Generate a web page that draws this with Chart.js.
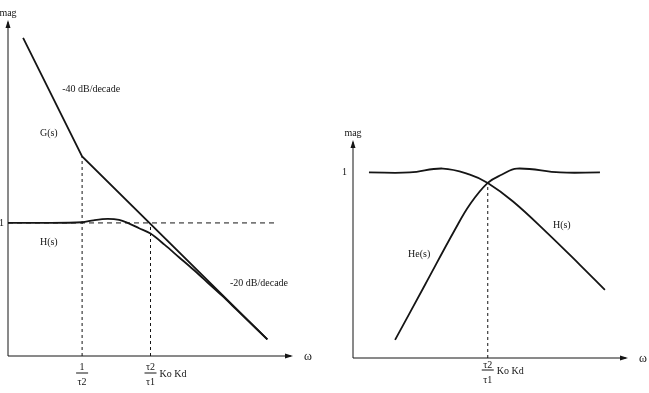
<!DOCTYPE html>
<html>
<head>
<meta charset="utf-8">
<script src="https://cdn.jsdelivr.net/npm/chart.js@4.4.0/dist/chart.umd.min.js"></script>
<style>
body { margin: 0; background: #fff; }
#left { position: absolute; left: 0; top: 0; }
#right { position: absolute; left: 330px; top: 0; }
</style>
</head>
<body>
<canvas id="left" width="320" height="393"></canvas>
<canvas id="right" width="319" height="393"></canvas>
<script>
// left plot - open loop G(s) and closed loop H(s)
const gOmega = [0.53, 2.6, 9.1];
const gMag = [9.56, 6.0, 0.5];
const hOmega = [0, 1.5, 2.6, 3.0, 3.5, 3.9, 4.2, 4.6, 5.0, 5.5, 6.0, 6.5, 7.0, 7.5, 8.0, 9.1];
const hMag = [4.0, 4.0, 4.02, 4.08, 4.12, 4.09, 4.0, 3.84, 3.68, 3.34, 2.97, 2.6, 2.21, 1.82, 1.41, 0.5];
const unityLeft = 4.0;
const unityLeftEnd = 9.37;
const leftTicks = [2.6, 5.0];
const leftTickLabels = [['1', 'τ2'], ['τ2', 'τ1']];

// right plot - H(s) and error response He(s)
const rhOmega = [0.58, 2.07, 3.27, 4.25, 4.9, 5.82, 7.05, 8.25, 9.16];
const rhMag = [8.0, 8.0, 8.17, 7.91, 7.55, 6.75, 5.41, 4.02, 2.94];
const heOmega = [1.53, 2.62, 3.71, 4.25, 4.9, 5.42, 5.96, 7.53, 8.98];
const heMag = [0.78, 3.16, 5.54, 6.62, 7.55, 7.91, 8.17, 8.0, 8.0];
const unityRight = 8.0;
const crossMag = 7.55;
const rightTicks = [4.9];
const rightTickLabels = [['τ2', 'τ1']];

const ink = '#151515';
const serif = 'Liberation Serif, Times New Roman, serif';

function pts(xs, ys) {
    return xs.map((v, i) => ({ x: v, y: ys[i] }));
}

function curve(data, smooth) {
    const ds = { data: data, showLine: true, pointRadius: 0, borderColor: ink, borderWidth: 1.8, tension: 0 };
    if (smooth === 'mono') ds.cubicInterpolationMode = 'monotone';
    else if (smooth) ds.tension = smooth;
    return ds;
}

function dashed(data, dash) {
    return { data: data, showLine: true, pointRadius: 0, borderColor: ink, borderWidth: 1, borderDash: dash };
}

// axes with arrow heads, labels, fraction bars
const bodePlugin = {
    id: 'bode',
    afterDraw(chart, args, opts) {
        const { ctx, chartArea: a, scales: { x, y } } = chart;
        ctx.save();
        ctx.strokeStyle = ink;
        ctx.fillStyle = ink;
        ctx.lineWidth = 1;
        ctx.beginPath();
        ctx.moveTo(a.left, a.bottom);
        ctx.lineTo(a.left, a.top + 2);
        ctx.moveTo(a.left, a.bottom);
        ctx.lineTo(a.right - 2, a.bottom);
        ctx.stroke();
        ctx.beginPath();
        ctx.moveTo(a.left, a.top);
        ctx.lineTo(a.left - 2.5, a.top + 8);
        ctx.lineTo(a.left + 2.5, a.top + 8);
        ctx.closePath();
        ctx.fill();
        ctx.beginPath();
        ctx.moveTo(a.right, a.bottom);
        ctx.lineTo(a.right - 8, a.bottom - 2.5);
        ctx.lineTo(a.right - 8, a.bottom + 2.5);
        ctx.closePath();
        ctx.fill();

        ctx.font = '10px ' + serif;
        ctx.textBaseline = 'middle';
        ctx.textAlign = 'center';
        ctx.fillText('mag', a.left, a.top - 7);
        ctx.font = '12px ' + serif;
        ctx.fillText('ω', a.right + 15, a.bottom + 1);

        // fraction bars under the tick marks
        ctx.font = '10px ' + serif;
        opts.ticks.forEach(v => {
            const px = x.getPixelForValue(v);
            ctx.beginPath();
            ctx.moveTo(px - 6, a.bottom + opts.bar);
            ctx.lineTo(px + 6, a.bottom + opts.bar);
            ctx.stroke();
        });
        const last = opts.ticks[opts.ticks.length - 1];
        ctx.textAlign = 'left';
        ctx.fillText('Ko Kd', x.getPixelForValue(last) + 9, a.bottom + opts.bar + 1);

        opts.notes.forEach(n => {
            ctx.fillText(n.text, x.getPixelForValue(n.x), y.getPixelForValue(n.y));
        });
        ctx.restore();
    }
};

function makeChart(id, datasets, xTicks, xLabels, yMax, unity, pad, yWidth, yPad, xHeight, xPad, notes, bar) {
    return new Chart(document.getElementById(id), {
        type: 'scatter',
        data: { datasets: datasets },
        options: {
            responsive: false,
            animation: false,
            devicePixelRatio: 1,
            layout: { padding: pad },
            plugins: {
                legend: { display: false },
                tooltip: { enabled: false },
                bode: { ticks: xTicks, notes: notes, bar: bar }
            },
            scales: {
                x: {
                    type: 'linear',
                    min: 0,
                    max: 10,
                    grid: { display: false, drawTicks: false },
                    border: { display: false },
                    afterBuildTicks: s => { s.ticks = xTicks.map(v => ({ value: v })); },
                    afterFit: s => { s.height = xHeight; },
                    ticks: {
                        autoSkip: false,
                        maxRotation: 0,
                        padding: xPad,
                        color: ink,
                        font: { family: serif, size: 10, lineHeight: 1.5 },
                        callback: (v, i) => xLabels[i]
                    }
                },
                y: {
                    type: 'linear',
                    min: 0,
                    max: yMax,
                    grid: { display: false, drawTicks: false },
                    border: { display: false },
                    afterBuildTicks: s => { s.ticks = [{ value: unity }]; },
                    afterFit: s => { s.width = yWidth; },
                    ticks: {
                        padding: yPad,
                        color: ink,
                        font: { family: serif, size: 10 },
                        callback: () => '1'
                    }
                }
            }
        },
        plugins: [bodePlugin]
    });
}

makeChart('left', [
    curve(pts(gOmega, gMag), 0),
    curve(pts(hOmega, hMag), 'mono'),
    dashed([{ x: 0, y: unityLeft }, { x: unityLeftEnd, y: unityLeft }], [5, 4]),
    dashed([{ x: leftTicks[0], y: 0 }, { x: leftTicks[0], y: gMag[1] }], [3, 3]),
    dashed([{ x: leftTicks[1], y: 0 }, { x: leftTicks[1], y: unityLeft }], [3, 3])
], leftTicks, leftTickLabels, 10.1, unityLeft,
    { left: 0, top: 20, right: 27, bottom: 0 }, 8, 4, 37, 4,
    [
        { text: '-40 dB/decade', x: 1.9, y: 8.0 },
        { text: 'G(s)', x: 1.12, y: 6.7 },
        { text: 'H(s)', x: 1.12, y: 3.43 },
        { text: '-20 dB/decade', x: 7.79, y: 2.17 }
    ], 17);

makeChart('right', [
    curve(pts(rhOmega, rhMag), 0.4),
    curve(pts(heOmega, heMag), 0.4),
    dashed([{ x: rightTicks[0], y: 0 }, { x: rightTicks[0], y: crossMag }], [3, 3])
], rightTicks, rightTickLabels, 9.4, unityRight,
    { left: 0, top: 140, right: 21, bottom: 0 }, 23, 6, 35, 0,
    [
        { text: 'He(s)', x: 2.0, y: 4.45 },
        { text: 'H(s)', x: 7.27, y: 5.7 }
    ], 12);
</script>
</body>
</html>
